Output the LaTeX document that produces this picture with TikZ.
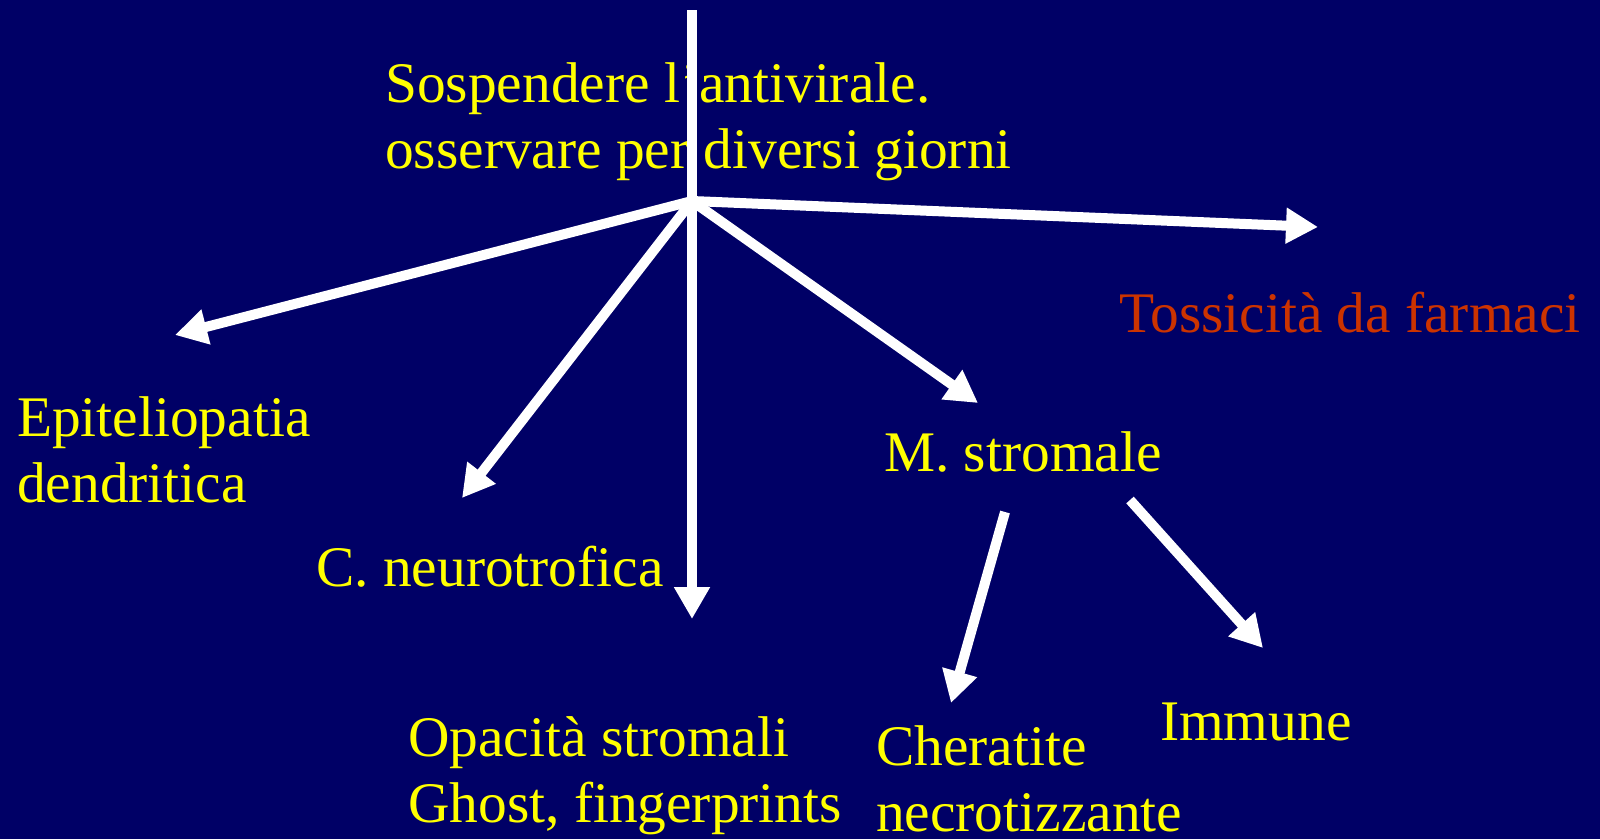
\documentclass[tikz,border=0pt]{standalone}
\usepackage{fontspec}
\setmainfont{Liberation Serif}
\usetikzlibrary{arrows.meta}
\definecolor{bgnavy}{HTML}{000066}
\definecolor{txtyellow}{HTML}{FFFF00}
\definecolor{txtred}{HTML}{CC3300}
\tikzset{
  lbl/.style={anchor=base west, inner sep=0pt, text=txtyellow, align=left, font=\fontsize{57.4}{66}\selectfont},
  redlbl/.style={lbl, text=txtred},
  arr/.style={draw=white, line width=10pt, -{Triangle[length=32pt,width=34pt]}}
}
\begin{document}
\begin{tikzpicture}[x=1pt,y=-1pt]
\fill[bgnavy] (0,0) rectangle (1600,839);
\useasboundingbox (0,0) rectangle (1600,839);
% texts (two-line nodes: anchor at baseline of last line)
\node[lbl] (susp) at (385,168) {Sospendere l’antivirale.\\osservare per diversi giorni};
\node[redlbl] (toss) at (1119,332) {Tossicità da farmaci};
\node[lbl] (epit) at (17,502) {Epiteliopatia\\dendritica};
\node[lbl] (neur) at (316,586) {C. neurotrofica};
\node[lbl] (strom) at (884,471) {M. stromale};
\node[lbl] (opac) at (408,822) {Opacità stromali\\Ghost, fingerprints};
\node[lbl] (cher) at (876,831) {Cheratite\\necrotizzante};
\node[lbl] (imm) at (1160,740) {Immune};
% coordinates
\coordinate (top) at (692,10);
\coordinate (hub) at (692,201);
\coordinate (tRight) at (1318,227);
\coordinate (tEpit) at (175,335);
\coordinate (tNeur) at (462,498);
\coordinate (tDown) at (692,619);
\coordinate (tStrom) at (978,403);
\coordinate (sCher) at (1005,512);
\coordinate (tCher) at (951,703);
\coordinate (sImm) at (1130,500);
\coordinate (tImm) at (1263,648);
% connectors
\draw[arr] (top) -- (tDown);
\draw[arr] (hub) -- (tRight);
\draw[arr] (hub) -- (tEpit);
\draw[arr] (hub) -- (tNeur);
\draw[arr] (hub) -- (tStrom);
\draw[arr] (sCher) -- (tCher);
\draw[arr] (sImm) -- (tImm);
\end{tikzpicture}
\end{document}
